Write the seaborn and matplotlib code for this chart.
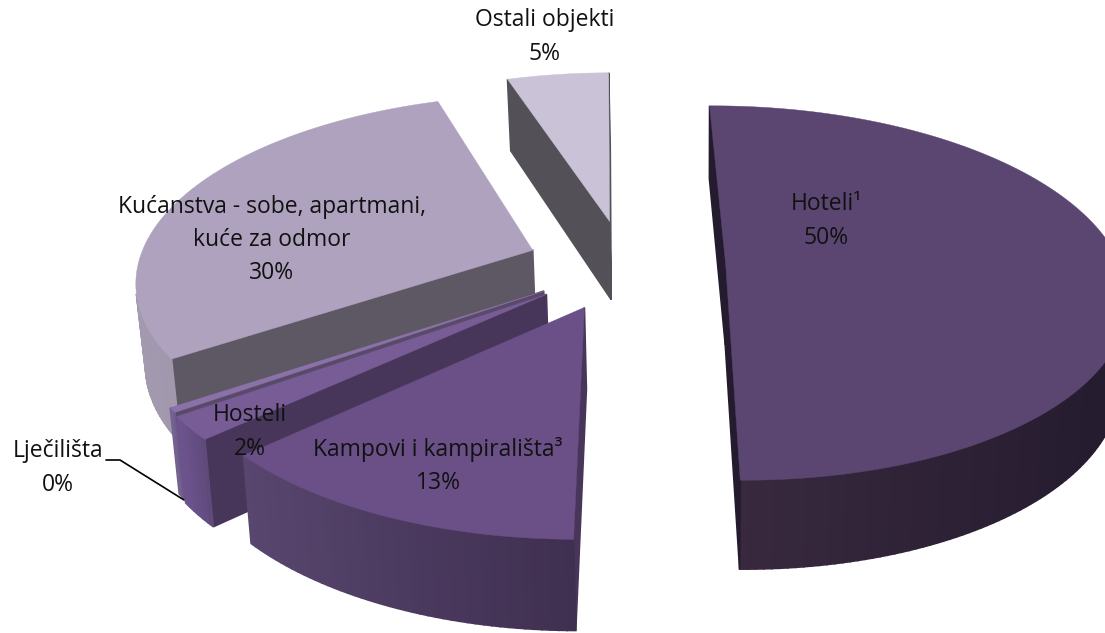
import numpy as np
import matplotlib
matplotlib.use('Agg')
import matplotlib.pyplot as plt
import seaborn as sns

# %% data

categories = ['Hoteli¹', 'Kampovi i kampirališta³', 'Hosteli', 'Lječilišta',
              'Kućanstva - sobe, apartmani,\nkuće za odmor', 'Ostali objekti']
values = [50.4, 13.1, 2, 0.4, 29.5, 4.9]
percent_labels = ['50%', '13%', '2%', '0%', '30%', '5%']

# %% styling of each slice

explode = [0.255, 0.245, 0.25, 0.245, 0.25, 0.25]
top_colors = ['#5b4672', '#6a5086', '#785c96', '#8a72a8', '#afa2bf', '#cac2d6']
radial_colors = ['#241b2e', '#47365a', '#47365a', '#5a4a6a', '#5e5764', '#545058']
arc_left = ['#3a2a40', '#58466f', '#6f5590', '#7a6696', '#a39ab0', '#bdb5c8']
arc_right = ['#241b2e', '#3f2f50', '#604a7c', '#6a5a86', '#8f8799', '#a8a0b4']
label_pos = [(826, 221), (438, 466), (250, 432), (58, 468), (272, 240), (545, 37)]

# projection of the flat pie on the picture, in pixels
cx, cy = 625, 265
rx, ry, depth = 395, 183, 80
persp = 0.15
depth_persp = 0.10
lean, lean_x = 0.017, 700
start_angle = -0.5


def project(x, y, z=0):
    s = 1 / (1 + persp * y)
    px = cx + rx * x * s
    return (px + (lean_x - px) * lean * z,
            cy - ry * y * s + depth * z / (1 + depth_persp * y))


sns.set_theme(style='white')
plt.rcParams['font.family'] = ['Open Sans', 'DejaVu Sans']

fig, ax = plt.subplots(figsize=(11.05, 6.33), dpi=100)
ax.set_position([0, 0, 1, 1])
ax.set_xlim(0, 1105)
ax.set_ylim(633, 0)
ax.axis('off')

# %% slices, back ones first

total = sum(values)
spans = np.array(values) / total * 360
starts = start_angle + np.concatenate([[0], np.cumsum(spans)[:-1]])

for i in [5, 4, 3, 2, 1, 0]:
    t0, t1 = starts[i], starts[i] + spans[i]
    mid = np.radians((t0 + t1) / 2)
    ox, oy = explode[i] * np.sin(mid), explode[i] * np.cos(mid)
    th = np.radians(np.linspace(t0, t1, max(int(spans[i]), 4)))
    xs = np.concatenate([[ox], ox + np.sin(th)])
    ys = np.concatenate([[oy], oy + np.cos(th)])

    top = np.array([project(x, y) for x, y in zip(xs, ys)])
    low = np.array([project(x, y, 1) for x, y in zip(xs, ys)])
    n = len(xs)

    left_rgb = np.array(matplotlib.colors.to_rgb(arc_left[i]))
    right_rgb = np.array(matplotlib.colors.to_rgb(arc_right[i]))
    x_lo, x_hi = top[1:, 0].min(), top[1:, 0].max()

    for a in range(n):
        b = (a + 1) % n
        quad = np.array([top[a], top[b], low[b], low[a]])
        px, py = quad[:, 0], quad[:, 1]
        area = np.sum(px * np.roll(py, -1) - np.roll(px, -1) * py)
        if area >= 0:
            continue
        if a == 0 or b == 0:
            color = radial_colors[i]
        else:
            f = (top[a, 0] - x_lo) / max(x_hi - x_lo, 1)
            color = left_rgb + (right_rgb - left_rgb) * f
        ax.fill(px, py, color=color, lw=1.2, zorder=i * -10 + 100)

    ax.fill(top[:, 0], top[:, 1], color=top_colors[i], lw=0.3, zorder=i * -10 + 101)

# %% labels

for i, name in enumerate(categories):
    ax.text(label_pos[i][0], label_pos[i][1], name + '\n' + percent_labels[i],
            ha='center', va='center', fontsize=16.5, color='#111111',
            linespacing=1.52, zorder=200)

# leader line of the smallest slice
ax.plot([106, 120, 184], [460, 460, 500], color='black', lw=1.2, zorder=150)

fig.savefig('out.png', dpi=100)
